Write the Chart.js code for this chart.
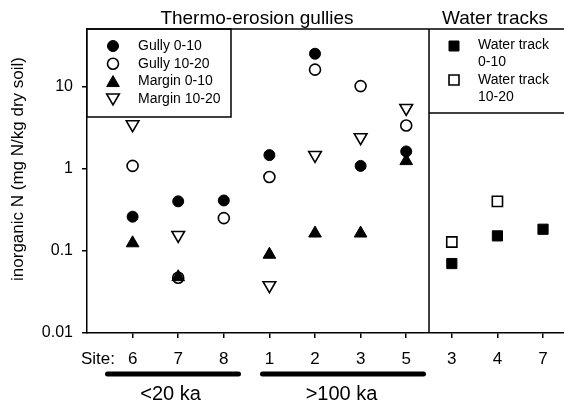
<!DOCTYPE html>
<html>
<head>
<meta charset="utf-8">
<script src="https://cdn.jsdelivr.net/npm/chart.js@4.4.1/dist/chart.umd.min.js"></script>
<style>
  html, body { margin: 0; padding: 0; background: #fff; }
  #wrap { width: 564px; height: 402px; position: relative; }
</style>
</head>
<body>
<div id="wrap"><canvas id="chart"></canvas></div>
<script>
// site labels along x (7 gully sites, then 3 water track sites)
const sites = ["6", "7", "8", "1", "2", "3", "5", "3", "4", "7"];
const gullySites = [0, 1, 2, 3, 4, 5, 6];
const trackSites = [7, 8, 9];

// inorganic N (mg N/kg dry soil)
const gully010 = [0.26, 0.40, 0.41, 1.46, 25, 1.08, 1.62];
const gully1020 = [1.08, 0.047, 0.25, 0.79, 16, 10.1, 3.35];
const margin010 = [0.124, 0.048, null, 0.09, 0.163, 0.163, 1.24];
const margin1020 = [3.45, 0.155, null, 0.038, 1.46, 2.4, 5.45];
const track010 = [0.070, 0.152, 0.183];
const track1020 = [0.128, 0.40, null];

const yTicks = [0.01, 0.1, 1, 10];

const FONT = "'Liberation Sans', Arial, sans-serif";

function pts(xs, ys) {
  let out = [];
  for (let i = 0; i < xs.length; i++) {
    if (ys[i] != null) out.push({ x: xs[i], y: ys[i] });
  }
  return out;
}

function series(label, data, style, filled, radius, order, rotation) {
  return {
    label: label,
    data: data,
    order: order,
    pointStyle: style,
    pointRadius: radius,
    pointHoverRadius: radius,
    pointRotation: rotation || 0,
    pointBackgroundColor: filled ? "#000" : "#fff",
    pointBorderColor: "#000",
    pointBorderWidth: filled ? 1 : 1.6,
    showLine: false,
  };
}

// simple marker drawing for the hand-made legend boxes
function marker(ctx, style, filled, x, y) {
  ctx.save();
  ctx.beginPath();
  if (style == "circle") {
    ctx.arc(x, y, 5.5, 0, Math.PI * 2);
  } else if (style == "tri" || style == "tridown") {
    let r = 7.3, d = style == "tri" ? 1 : -1;
    ctx.moveTo(x, y - d * r);
    ctx.lineTo(x + r * 0.866, y + d * r / 2);
    ctx.lineTo(x - r * 0.866, y + d * r / 2);
    ctx.closePath();
  } else {
    ctx.rect(x - 5, y - 5, 10, 10);
  }
  ctx.fillStyle = filled ? "#000" : "#fff";
  ctx.fill();
  ctx.lineWidth = filled ? 1 : 1.6;
  ctx.strokeStyle = "#000";
  ctx.stroke();
  ctx.restore();
}

const decorations = {
  id: "decorations",
  afterDraw(chart) {
    const ctx = chart.ctx;
    const area = chart.chartArea;
    const xs = chart.scales.x;
    ctx.save();
    ctx.strokeStyle = "#000";
    ctx.fillStyle = "#000";
    ctx.lineWidth = 1.5;
    let divX = xs.getPixelForValue(6.5);

    // legend box, gullies
    ctx.fillStyle = "#fff";
    ctx.fillRect(area.left, area.top, 231 - area.left, 117 - area.top);
    ctx.strokeRect(area.left, area.top, 231 - area.left, 117 - area.top);
    const gLeg = [
      ["Gully 0-10", "circle", true],
      ["Gully 10-20", "circle", false],
      ["Margin 0-10", "tri", true],
      ["Margin 10-20", "tridown", false],
    ];
    ctx.font = "14px " + FONT;
    ctx.textAlign = "left";
    ctx.textBaseline = "middle";
    gLeg.forEach((g, i) => {
      let y = 46 + i * 17.7;
      marker(ctx, g[1], g[2], 113, y + (g[1] == "tri" ? 1.5 : g[1] == "tridown" ? -1.5 : 0));
      ctx.fillStyle = "#000";
      ctx.fillText(g[0], 138, y);
    });

    // legend box, water tracks
    ctx.fillStyle = "#fff";
    ctx.fillRect(divX, area.top, 566 - divX, 113 - area.top);
    ctx.beginPath();
    ctx.moveTo(divX, 113);
    ctx.lineTo(566, 113);
    ctx.stroke();
    marker(ctx, "rect", true, 454, 46);
    marker(ctx, "rect", false, 454, 80);
    ctx.fillStyle = "#000";
    ctx.fillText("Water track", 478, 45);
    ctx.fillText("0-10", 478, 62);
    ctx.fillText("Water track", 478, 80);
    ctx.fillText("10-20", 478, 97);

    // top frame line and panel divider
    ctx.beginPath();
    ctx.moveTo(area.left, area.top);
    ctx.lineTo(566, area.top);
    ctx.moveTo(divX, area.top);
    ctx.lineTo(divX, area.bottom);
    ctx.stroke();

    // panel titles
    ctx.font = "19px " + FONT;
    ctx.textAlign = "center";
    ctx.textBaseline = "alphabetic";
    ctx.fillText("Thermo-erosion gullies", 257, 24);
    ctx.fillText("Water tracks", 495, 24);

    // y axis title
    ctx.save();
    ctx.translate(18, 169);
    ctx.rotate(-Math.PI / 2);
    ctx.font = "17px " + FONT;
    ctx.textBaseline = "middle";
    ctx.fillText("inorganic N (mg N/kg dry soil)", 0, 0);
    ctx.restore();

    // "Site:" prefix of the x labels
    ctx.font = "17px " + FONT;
    ctx.textAlign = "right";
    ctx.textBaseline = "alphabetic";
    ctx.fillText("Site:", 115, 364);

    // age bars under the gully sites
    ctx.lineCap = "round";
    ctx.lineWidth = 5;
    ctx.beginPath();
    ctx.moveTo(107.5, 374);
    ctx.lineTo(238.5, 374);
    ctx.moveTo(262.5, 374);
    ctx.lineTo(423.5, 374);
    ctx.stroke();
    ctx.font = "20px " + FONT;
    ctx.textAlign = "center";
    ctx.fillText("<20 ka", 170.5, 400);
    ctx.fillText(">100 ka", 341.5, 400);
    ctx.restore();
  },
};

new Chart(document.getElementById("chart").getContext("2d"), {
  type: "scatter",
  data: {
    datasets: [
      series("Gully 0-10", pts(gullySites, gully010), "circle", true, 5.5, 2),
      series("Gully 10-20", pts(gullySites, gully1020), "circle", false, 5.5, 3),
      series("Margin 0-10", pts(gullySites, margin010), "triangle", true, 7.3, 1),
      series("Margin 10-20", pts(gullySites, margin1020), "triangle", false, 7.3, 4, 180),
      series("Water track 0-10", pts(trackSites, track010), "rect", true, 7.2, 5),
      series("Water track 10-20", pts(trackSites, track1020), "rect", false, 7.2, 6),
    ],
  },
  options: {
    responsive: true,
    maintainAspectRatio: false,
    animation: false,
    layout: { autoPadding: false, padding: { top: 29, left: 0, right: 0, bottom: 0 } },
    plugins: {
      legend: { display: false },
      tooltip: { enabled: false },
    },
    scales: {
      x: {
        type: "linear",
        min: -1,
        max: 9.46,
        afterBuildTicks: (s) => { s.ticks = sites.map((v, i) => ({ value: i })); },
        afterFit: (s) => { s.height = 69; s.paddingLeft = 0; s.paddingRight = 0; },
        ticks: {
          autoSkip: false,
          maxRotation: 0,
          color: "#000",
          padding: 11,
          font: { family: FONT, size: 17 },
          callback: (v) => sites[v],
        },
        grid: { drawOnChartArea: false, tickLength: 5, color: "#000", lineWidth: 1.5 },
        border: { display: true, color: "#000", width: 1.5 },
      },
      y: {
        type: "logarithmic",
        min: 0.01,
        max: 50,
        afterBuildTicks: (s) => { s.ticks = yTicks.map((v) => ({ value: v })); },
        afterFit: (s) => { s.width = 87; s.paddingTop = 0; s.paddingBottom = 0; },
        ticks: {
          color: "#000",
          padding: 9,
          font: { family: FONT, size: 16 },
          callback: (v) => String(v),
        },
        grid: { drawOnChartArea: false, tickLength: 5, color: "#000", lineWidth: 1.5 },
        border: { display: true, color: "#000", width: 1.5 },
      },
    },
  },
  plugins: [decorations],
});
</script>
</body>
</html>
